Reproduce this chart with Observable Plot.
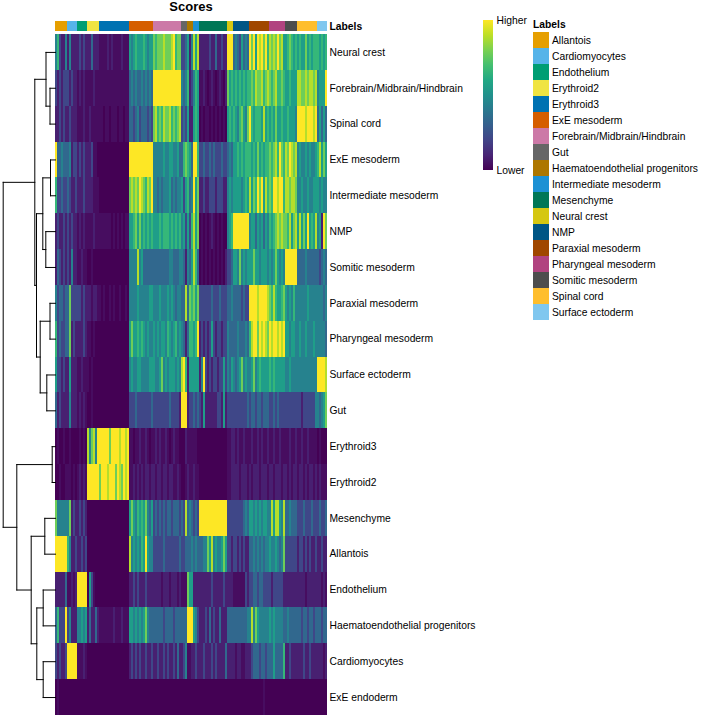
<!DOCTYPE html>
<html><head><meta charset="utf-8">
<script src="https://cdn.jsdelivr.net/npm/d3@7"></script>
<script src="https://cdn.jsdelivr.net/npm/@observablehq/plot@0.6"></script>
<style>
html,body{margin:0;padding:0;background:#fff}
body{position:relative;width:720px;height:720px;overflow:hidden;font-family:"Liberation Sans",Arial,sans-serif;color:#000}
#chart{position:absolute;left:0;top:0}
#title{position:absolute;left:0;width:382px;top:0;text-align:center;font-weight:bold;font-size:13px;line-height:14px}
#bar{position:absolute;left:483px;top:20px;width:10px;height:150px}
.t{position:absolute;font-size:10.3px;line-height:12px;white-space:nowrap}
.sw{position:absolute;left:533px;width:16px;height:16px}
</style></head><body>
<div id="chart"></div>
<div id="title">Scores</div>
<div id="bar"></div>
<div id="legend"></div>
<script>
const labels = ["Allantois","Cardiomyocytes","Endothelium","Erythroid2","Erythroid3","ExE mesoderm","Forebrain/Midbrain/Hindbrain","Gut","Haematoendothelial progenitors","Intermediate mesoderm","Mesenchyme","Neural crest","NMP","Paraxial mesoderm","Pharyngeal mesoderm","Somitic mesoderm","Spinal cord","Surface ectoderm"];
const palette = ["#E69F00","#56B4E9","#009E73","#F0E442","#0072B2","#D55E00","#CC79A7","#666666","#AD7700","#1C91D4","#007756","#D5C711","#005685","#A04700","#B14380","#4D4D4D","#FFBE2D","#80C7EF"];
const groupSizes = [6,5,5,6,15,12,14,3,3,3,14,3,8,10,8,6,10,5];
const rowNames = ["Neural crest","Forebrain/Midbrain/Hindbrain","Spinal cord","ExE mesoderm","Intermediate mesoderm","NMP","Somitic mesoderm","Paraxial mesoderm","Pharyngeal mesoderm","Surface ectoderm","Gut","Erythroid3","Erythroid2","Mesenchyme","Allantois","Endothelium","Haematoendothelial progenitors","Cardiomyocytes","ExE endoderm"];
// scores per cell, one group of characters per label; levels below give each character's score
const levels = {p:0.3,"0":0,"1":0.8,"2":1.9,"3":3,"4":4,"5":5,"6":6,"7":7,"8":8,"9":9};
const scoreRows = [
"462114 14111 12121 113111 pppp1p1pppp1ppp 545655565455 76777877789677 223 514 858 11111211311211 999 34325343 9795989796 87879785 567656 5655756566 65656",
"212122 21211 p1p1p ppp1pp ppppppppppppppp 343433434343 99999999999999 434 612 465 pp1p0p1p0p1p01 756 56565656 6768778678 76786676 556555 8877878878 45559",
"112121 12111 ppp1p p1pppp pp0pp0ppp0pp0pp 332342333232 78676877867678 232 511 565 0p0pp0p0p0p0p0 565 65467547 9656665856 56575565 565554 9999899989 35353",
"933433 34122 12121 112pp0 000000000000000 999999999999 44444544554453 367 653 996 22322323222322 343 55656566 6565756566 76786976 879878 4544545445 68575",
"622322 32112 11121 111ppp 000000000000000 787879876879 44343444534344 525 634 957 11211222122211 454 55554565 8576979586 76998996 887887 4454454455 54544",
"121121 21211 p1p1p ppp1pp pppppp0p0p0p0pp 556757565656 55565666565656 452 526 857 0p0p0p1p0p0p00 456 99999999 4553545354 65678787 768578 5857595658 45197",
"132121 21411 pp1pp 00p000 000000000000000 444484533333 33333333443334 431 435 863 0p0p0p0p0p0p01 223 55474545 5575545554 54575454 999999 3333433333 32343",
"423323 37222 22121 11p11p p0p00p0p00p00p0 444454444455 44454445454344 338 376 757 22222232223222 334 33332322 9999899998 76865567 545464 4444454444 44434",
"623223 37121 11121 pp0p00 000000000000000 575565654544 54545546545645 431 366 569 12121252122122 433 33433343 6899798987 98998989 554554 4544544454 44443",
"522121 15111 pp1pp p0p000 000000000000000 454455444455 54457454555454 896 155 555 14921212212252 435 43457454 4574565555 65655555 445444 4444444444 99998",
"312111 14111 p1p1p 00p000 000000000000000 222322222223 22222222322221 999 122 323 21511111122151 222 22222223 2332332333 22323222 222222 2212222224 43457",
"0p00p0 0p000 0p0p0 847849 999997999989989 pp0pp1pp1p0p p1p1pp1p0p1pp0 001 ppp pp0 00000000000000 pp1 1p1pp1pp p1pp1p1pp1 pp1pp1pp pp1pp1 pp1pp1pppp 0p000",
"00p00p pp0p0 p1p1p 999999 799989997987989 pp1p1p1p11p1 1p11p11p11pp1p 00p 1pp 1pp 00000000000000 pp1 111p111p 1p111p111p 11p111p1 1p1p11 p11p1p11p1 p1ppp",
"744444 47121 12121 000000 000000000000000 575465657435 23232323323332 328 343 232 99999999999999 222 22222343 5545454554 48588548 334333 2223222322 23223",
"999999 64112 11212 000000 000000000000000 845454659544 22222322222223 223 334 343 33447584544575 221 22121211 3343434344 54454347 222222 1221212112 11211",
"111113 pp1p1 99999 052p00 000000000000000 112121112111 1111p111p111p1 ppp 755 111 11111121111121 111 pppppp21 2233233222 21222221 111111 1111p11111 11p1p",
"362229 24111 44545 131131 ppppppp1ppp1ppp 554545457433 33333233332333 333 999 542 11121312113111 333 33333334 4847544444 54544443 343333 3323323323 33233",
"212112 99999 ppp1p 000000 000000000000000 121212112112 11211212112131 124 pp1 121 11211121211113 111 1p11pp11 1233323323 33533336 112111 1112112111 111p1",
"0p0000 00000 00000 000000 000000000000000 000000000000 00000000000000 000 000 000 00000000000000 000 00000000 0000000p00 00000000 000000 0000000000 00000"
];
// dendrogram merges: [child a, child b, height]; leaves are rows 0-18, new nodes count up from 19
const merges = [[1,2,2.75],[0,19,4.75],[3,4,2.5],[5,6,4.85],[21,22,6.35],[7,8,2.75],[9,10,4.35],[24,25,7.65],[23,26,9.5],[20,27,10.35],[11,12,1.65],[13,14,5.35],[15,16,6.15],[17,18,6.15],[31,32,9.35],[30,33,12.15],[29,34,19.35],[28,35,26.15]];

const cells = [];
scoreRows.forEach((s,r)=>{
  const parts = s.split(" ");
  let col = 0;
  parts.forEach((g,gi)=>{
    if (g.length !== groupSizes[gi]) throw new Error(`row ${r} group ${gi}: ${g.length}`);
    for (const ch of g){ cells.push({col,row:r,score:levels[ch]}); col++; }
  });
});
const ncol = d3.sum(groupSizes);
let c0 = 0;
const groups = labels.map((l,i)=>{const g={label:l,start:c0,end:c0+groupSizes[i],color:palette[i]};c0=g.end;return g;});

const nodes = rowNames.map((_,i)=>({y:i+0.5,h:0}));
const segs = [];
merges.forEach(([a,b,h])=>{
  const A=nodes[a],B=nodes[b];
  segs.push({x1:-A.h,x2:-h,y1:A.y,y2:A.y},{x1:-B.h,x2:-h,y1:B.y,y2:B.y},{x1:-h,x2:-h,y1:A.y,y2:B.y});
  nodes.push({y:(A.y+B.y)/2,h});
});

const chart = Plot.plot({
  width:720,height:720,margin:0,
  x:{type:"linear",domain:[-27.5,332.5],range:[0,720],axis:null},
  y:{type:"linear",domain:[-34/35.84,(720-34)/35.84],range:[0,720],axis:null},
  color:{type:"linear",scheme:"viridis",domain:[0,9]},
  style:{fontFamily:"'Liberation Sans',Arial,sans-serif",background:"#fff",overflow:"visible"},
  marks:[
    Plot.rect(cells,{x1:"col",x2:d=>d.col+1,y1:"row",y2:d=>d.row+1,fill:"score",shapeRendering:"crispEdges"}),
    ...groups.map(g=>Plot.rect([g],{x1:"start",x2:"end",y1:()=>-13/35.84,y2:()=>-3/35.84,fill:g.color,shapeRendering:"crispEdges"})),
    Plot.link(segs,{x1:"x1",x2:"x2",y1:"y1",y2:"y2",stroke:"#000",strokeWidth:1,strokeLinecap:"square"}),
    Plot.text(rowNames,{x:()=>ncol,y:(d,i)=>i+0.5,text:d=>d,dx:2,textAnchor:"start",fontSize:10.3,fill:"#000"}),
    Plot.text(["Labels"],{x:()=>ncol,y:()=>-8/35.84,text:d=>d,dx:2,textAnchor:"start",fontSize:10.3,fontWeight:"bold",fill:"#000"})
  ]
});
document.getElementById("chart").append(chart);

document.getElementById("bar").style.background =
  "linear-gradient(to top,"+d3.range(0,1.001,0.1).map(t=>d3.interpolateViridis(t)).join(",")+")";
const lg = document.getElementById("legend");
function addText(txt,left,top,bold){
  const e=document.createElement("div");e.className="t";e.textContent=txt;
  e.style.left=left+"px";e.style.top=top+"px";if(bold)e.style.fontWeight="bold";lg.append(e);
}
addText("Higher",496.5,15);
addText("Lower",496.5,165);
addText("Labels",533,19,true);
labels.forEach((l,i)=>{
  const s=document.createElement("div");s.className="sw";s.style.top=(32+16*i)+"px";s.style.background=palette[i];lg.append(s);
  addText(l,552,35+16*i);
});
</script>
</body></html>
